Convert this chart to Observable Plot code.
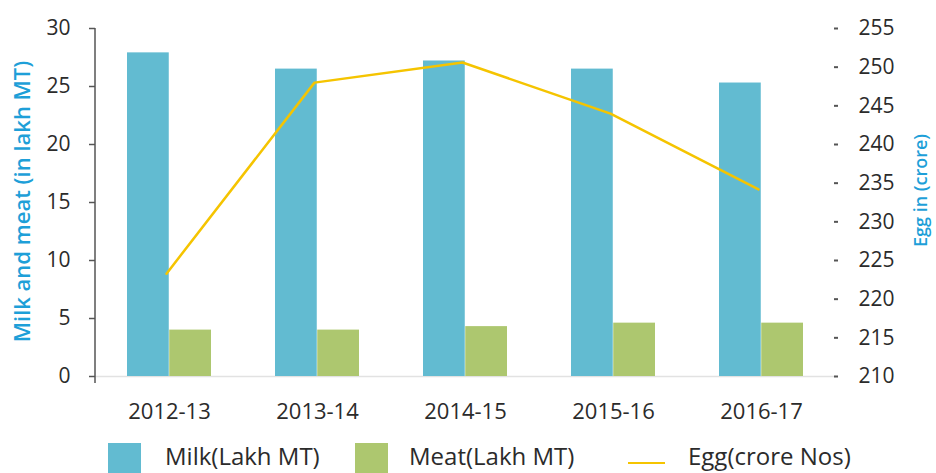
<!DOCTYPE html>
<html><head><meta charset="utf-8">
<script src="https://cdn.jsdelivr.net/npm/d3@7"></script>
<script src="https://cdn.jsdelivr.net/npm/@observablehq/plot@0.6"></script>
<style>
body{margin:0;background:#fff;font-family:"Open Sans",sans-serif;}
#chart svg{display:block;}
#legend{position:relative;width:936px;height:37px;overflow:hidden;}
.sw{position:absolute;}
.lt{position:absolute;font-size:24px;color:#2b2b2b;line-height:30px;white-space:nowrap;}
</style></head><body><div id="chart"></div><div id="legend"></div>
<script>
const years = ["2012-13","2013-14","2014-15","2015-16","2016-17"];
const milk = [27.9,26.5,27.2,26.5,25.3];
const meat = [4.0,4.0,4.3,4.6,4.6];
const egg = [223.3,248.0,250.6,244.0,234.2];
const leftTicks = [0,5,10,15,20,25,30];
const rightTicks = [210,215,220,225,230,235,240,245,250,255];
const seriesNames = ["Milk(Lakh MT)","Meat(Lakh MT)","Egg(crore Nos)"];
const colors = ["#62bbd1","#adc76f","#f5c400"];
const leftTitle = "Milk and meat (in lakh MT)";
const rightTitle = "Egg in (crore)";

const eggMin = 210, eggMax = 255, leftMax = 30;
const toLeft = v => (v - eggMin) / (eggMax - eggMin) * leftMax;
const fromLeft = v => Math.round(v / leftMax * (eggMax - eggMin) + eggMin);

const W = 936, H = 436, mL = 95, mR = 100, mT = 28, mB = 60;
const padIn = 0.43, padOut = 0.215;
const step = (W - mL - mR) / (years.length - padIn + 2 * padOut);
const half = step * (1 - padIn) / 2;

const rows = years.map((y, i) => ({year: y, milk: milk[i], meat: meat[i], egg: egg[i]}));

const plot = Plot.plot({
  width: W, height: H,
  marginLeft: mL, marginRight: mR, marginTop: mT, marginBottom: mB,
  style: {fontFamily: "'Open Sans', sans-serif", color: "#2b2b2b", background: "#fff"},
  x: {domain: years, paddingInner: padIn, paddingOuter: padOut, label: null},
  y: {domain: [0, leftMax], label: null},
  marks: [
    Plot.ruleY([0], {stroke: "#e2e2e2", strokeWidth: 1.5}),
    Plot.barY(rows, {x: "year", y: "milk", fill: colors[0], insetLeft: 0, insetRight: half}),
    Plot.barY(rows, {x: "year", y: "meat", fill: colors[1], insetLeft: half, insetRight: 0}),
    Plot.line(rows, {x: "year", y: d => toLeft(d.egg), stroke: colors[2], strokeWidth: 2.5, dx: -3}),
    Plot.axisY(leftTicks, {anchor: "left", tickSize: 6, tickPadding: 19, fontSize: 21, label: null, stroke: "#555", strokeWidth: 1.5}),
    Plot.axisY(rightTicks.map(toLeft), {anchor: "right", tickSize: 4, tickPadding: 21, dx: -3, fontSize: 21, label: null, tickFormat: d => fromLeft(d), stroke: "#555", strokeWidth: 2}),
    Plot.axisX({tickSize: 0, tickPadding: 27, fontSize: 22, label: null}),
    Plot.text([leftTitle], {frameAnchor: "left", textAnchor: "middle", dx: -73, dy: -1, rotate: -90, fontSize: 22, fontWeight: 600, fill: "#1e9fd8"}),
    Plot.text([rightTitle], {frameAnchor: "right", textAnchor: "middle", dx: 85, dy: -12, rotate: -90, fontSize: 18, fontWeight: 600, fill: "#1e9fd8"})
  ]
});
document.getElementById("chart").appendChild(plot);

// left axis line drawn through the plot's own y scale
const ys = plot.scale("y");
d3.select(plot).append("line")
  .attr("x1", mL).attr("x2", mL)
  .attr("y1", ys.apply(leftMax)).attr("y2", ys.apply(0) + 7)
  .attr("stroke", "#555").attr("stroke-width", 1.5);

// legend
const lg = document.getElementById("legend");
const legendLayout = [
  {type: "box", sx: 108, tx: 165},
  {type: "box", sx: 355, tx: 409},
  {type: "line", sx: 628, tx: 688}
];
seriesNames.forEach((name, i) => {
  const L = legendLayout[i];
  const sw = document.createElement("div");
  sw.className = "sw";
  if (L.type === "box") {
    Object.assign(sw.style, {left: L.sx + "px", top: "7px", width: "33px", height: "40px", background: colors[i]});
  } else {
    Object.assign(sw.style, {left: L.sx + "px", top: "26px", width: "37px", height: "2px", background: colors[i]});
  }
  lg.appendChild(sw);
  const t = document.createElement("div");
  t.className = "lt";
  t.textContent = name;
  Object.assign(t.style, {left: L.tx + "px", top: "5px"});
  lg.appendChild(t);
});
</script></body></html>
